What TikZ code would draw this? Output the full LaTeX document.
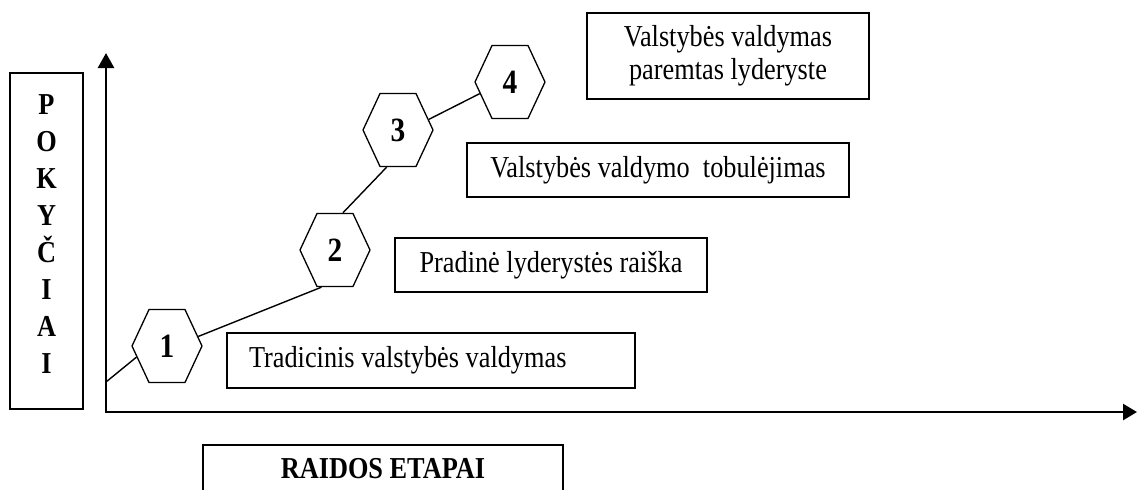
\documentclass[tikz,border=0pt]{standalone}
\usepackage{fontspec}
\setmainfont{Liberation Serif}[FakeStretch=0.865]
\usetikzlibrary{arrows.meta,shapes.symbols}

\begin{document}
\begin{tikzpicture}[
  x=0.5pt,
  y=-0.5pt,
  every node/.style={font=\fontsize{15.2}{16.5}\selectfont},
  stagebox/.style={draw, line width=0.9pt, inner sep=0pt, align=center},
  hexa/.style={
    signal, signal to=east and west, signal pointer angle=130,
    draw, line width=0.65pt, inner sep=0pt,
    minimum width=35pt, minimum height=36.5pt,
    font=\fontsize{17}{18}\selectfont\bfseries,
  },
]
  \useasboundingbox (0,0) rectangle (1138,489);
  \clip (0,0) rectangle (1138,489);

  \node[stagebox, minimum width=36.5pt, minimum height=168pt, text depth=7pt,
    font=\fontsize{15.2}{18.5}\selectfont\bfseries]
    (pokyciai) at (46.5,241) {P\\O\\K\\Y\\Č\\I\\A\\I};

  \coordinate (origin) at (106,412);
  \coordinate (ytip) at (106,53);
  \coordinate (xtip) at (1137,412);
  \coordinate (start) at (106,382);
  \draw[
    line width=1.25pt,
    {Triangle[length=7.5pt,width=8pt]}-{Triangle[length=7pt,width=8pt]},
  ] (ytip) -- (origin) -- (xtip);

  \foreach \name/\x/\y/\num in {
    h1/167/346/1,
    h2/335/250/2,
    h3/398/130/3,
    h4/510/82/4%
  } {
    \node[hexa] (\name) at (\x,\y) {\num};
  }

  \node[stagebox, minimum height=27.5pt, text width=182pt, align=flush left,
    inner xsep=11pt]
    (tradicinis) at (431,360.5) {Tradicinis valstybės valdymas};
  \node[stagebox, minimum width=156pt, minimum height=27pt]
    (pradine) at (551,265) {Pradinė lyderystės raiška};
  \node[stagebox, minimum width=191pt, minimum height=27pt]
    (tobulejimas) at (658,170) {Valstybės valdymo\ \ tobulėjimas};
  \node[stagebox, minimum width=141pt, minimum height=43pt]
    (lyderyste) at (728,56) {Valstybės valdymas\\paremtas lyderyste};
  \node[stagebox, minimum width=180pt, minimum height=24pt,
    font=\fontsize{15.2}{16.5}\selectfont\bfseries]
    (raidos) at (383,469) {RAIDOS ETAPAI};

  \begin{scope}[line width=0.7pt]
    \draw (start) -- (h1.200);
    \foreach \a/\b in {h1.17/h2.250, h2.78/h3.253, h3.19/h4.201}
      \draw (\a) -- (\b);
  \end{scope}
\end{tikzpicture}
\end{document}
